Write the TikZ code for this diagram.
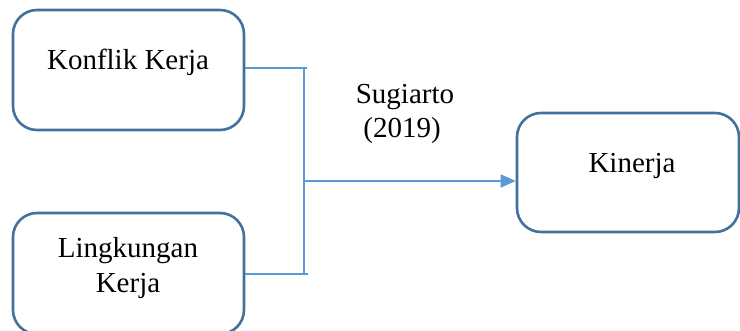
\documentclass[tikz,border=0pt]{standalone}
\usepackage{fontspec}
\setmainfont{Liberation Serif}
\usetikzlibrary{arrows.meta}
\definecolor{boxblue}{HTML}{41719C}
\definecolor{lineblue}{HTML}{5B9BD5}
\begin{document}
\begin{tikzpicture}[x=1pt,y=-1pt,
  box/.style={draw=boxblue,line width=2.6pt,rounded corners=24pt,fill=white,inner sep=0pt},
  lbl/.style={anchor=base,inner sep=0pt,font=\fontsize{29}{35}\selectfont,align=center},
  conn/.style={draw=lineblue,line width=1.8pt},
  arr/.style={conn,-{Triangle[length=15pt,width=13pt]}}]
\useasboundingbox (0,0) rectangle (740,330);
\begin{scope}
\clip (0,0) rectangle (740,330);
\node[box,minimum width=231pt,minimum height=120pt] (b1) at (128.5,70) {};
\node[box,minimum width=231pt,minimum height=121pt] (b2) at (128.5,273.5) {};
\node[box,minimum width=222pt,minimum height=119pt] (b3) at (628,172.5) {};
\end{scope}
\node[lbl] (t1) at (128,69) {Konflik Kerja};
\node[lbl] (t2) at (128,257) {Lingkungan};
\node[lbl] (t2b) at (128,292) {Kerja};
\node[lbl] (t3) at (632,172) {Kinerja};
\node[lbl] (s1) at (405,103) {Sugiarto};
\node[lbl] (s2) at (402,137) {(2019)};
\coordinate (top) at (304,68);
\coordinate (bot) at (304,274);
\coordinate (mid) at (304,181);
\draw[conn] (b1.east |- top) -- ([xshift=3pt]top);
\draw[conn] (top) -- (bot);
\draw[conn] (b2.east |- bot) -- ([xshift=4pt]bot);
\draw[arr] (mid) -- (mid -| b3.west);
\end{tikzpicture}
\end{document}
